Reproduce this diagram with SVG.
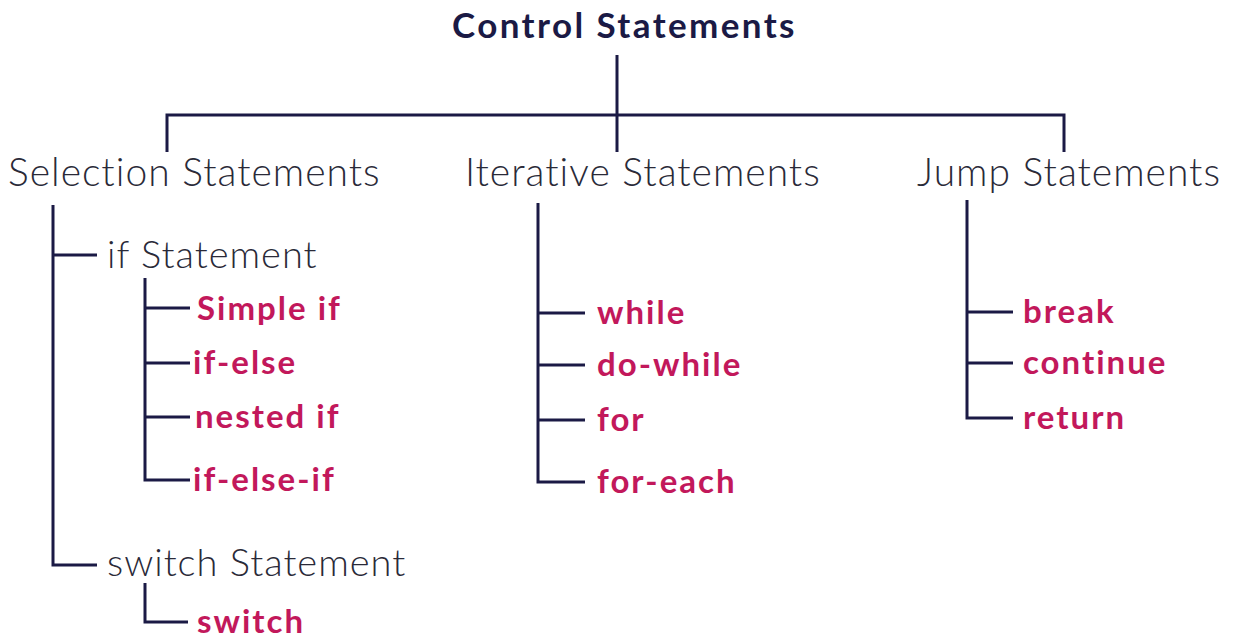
<svg xmlns="http://www.w3.org/2000/svg" width="1236" height="642" viewBox="0 0 1236 642">
<style>
.title{font-family:Lato,"Noto Sans",sans-serif;font-weight:700;font-size:35px;letter-spacing:2.4px;fill:#1b1a45}
.cat{font-family:Lato,"Noto Sans",sans-serif;font-weight:300;font-size:39px;letter-spacing:1px;fill:#2a2a38}
.sub{font-family:Lato,"Noto Sans",sans-serif;font-weight:300;font-size:38px;letter-spacing:1px;fill:#2a2a38}
.leaf{font-family:Lato,"Noto Sans",sans-serif;font-weight:700;font-size:33px;letter-spacing:2px;fill:#c2185b}
.ln{stroke:#1b1a45;stroke-width:3;fill:none}
</style>
<rect width="1236" height="642" fill="#ffffff"/>
<g id="connectors" class="ln">
<path d="M617 55V152"/>
<path d="M167 152V115H1064V152"/>
<path d="M53 205V565H97"/>
<path d="M53 255H97"/>
<path d="M145 278V480H190"/>
<path d="M145 308H190M145 363H190M145 417H190"/>
<path d="M145 583V622H188"/>
<path d="M538 203V482H585"/>
<path d="M538 313H585M538 365H585M538 420H585"/>
<path d="M967 200V418H1013"/>
<path d="M967 312H1013M967 363H1013"/>
</g>
<g id="root"><text class="title" x="452" y="38">Control Statements</text></g>
<g id="selection"><text class="cat" x="8" y="186">Selection Statements</text></g>
<g id="iterative"><text class="cat" x="465" y="186">Iterative Statements</text></g>
<g id="jump"><text class="cat" x="917" y="186" letter-spacing="1.4">Jump Statements</text></g>
<g id="if-statement"><text class="sub" x="107" y="268">if Statement</text></g>
<g id="simple-if"><text class="leaf" x="197" y="320">Simple if</text></g>
<g id="if-else"><text class="leaf" x="193" y="374">if-else</text></g>
<g id="nested-if"><text class="leaf" x="195" y="428">nested if</text></g>
<g id="if-else-if"><text class="leaf" x="193" y="491">if-else-if</text></g>
<g id="switch-statement"><text class="sub" x="107" y="576">switch Statement</text></g>
<g id="switch"><text class="leaf" x="197" y="633">switch</text></g>
<g id="while"><text class="leaf" x="597" y="324">while</text></g>
<g id="do-while"><text class="leaf" x="597" y="376">do-while</text></g>
<g id="for"><text class="leaf" x="597" y="431">for</text></g>
<g id="for-each"><text class="leaf" x="597" y="493">for-each</text></g>
<g id="break"><text class="leaf" x="1023" y="323">break</text></g>
<g id="continue"><text class="leaf" x="1023" y="374">continue</text></g>
<g id="return"><text class="leaf" x="1023" y="429">return</text></g>
</svg>
